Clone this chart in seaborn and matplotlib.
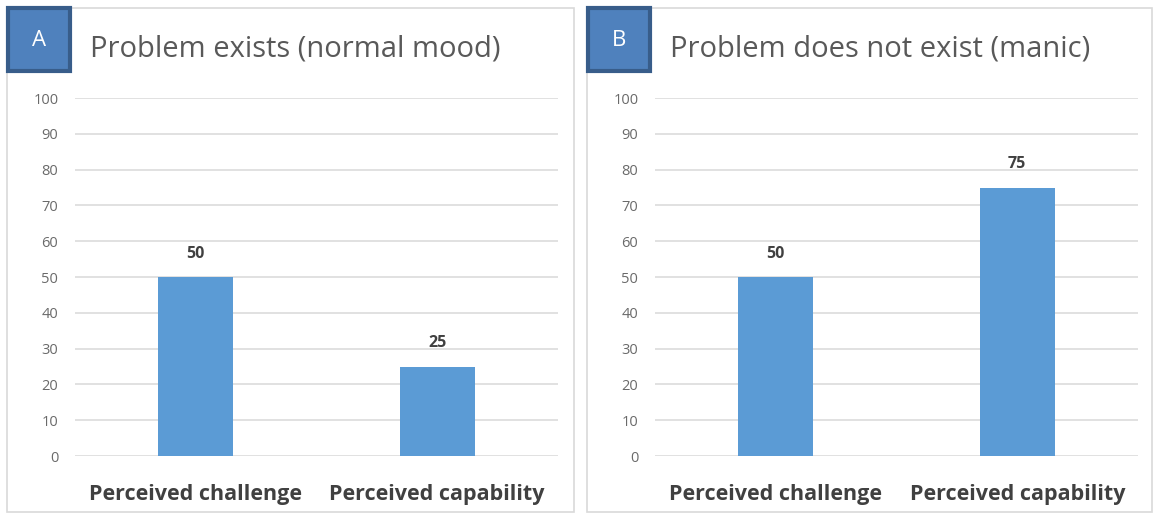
import numpy as np
import pandas as pd
import matplotlib
matplotlib.use('Agg')
import matplotlib.pyplot as plt
import seaborn as sns
from matplotlib.patches import Rectangle

# data
categories = ['Perceived challenge', 'Perceived capability']
values_a = [50, 25]
values_b = [50, 75]
titles = ['Problem exists (normal mood)', 'Problem does not exist (manic)']
panel_letters = ['A', 'B']

sns.set_style('white')
plt.rcParams['font.family'] = ['Open Sans', 'DejaVu Sans']

W, H = 1157, 515
fig = plt.figure(figsize=(W / 100, H / 100), dpi=100)

def fx(px):
    return px / W

def fy(py):
    return 1 - py / H

# panel frames (x0, x1 in px)
frames = [(7, 574), (587, 1152)]
axes_left = [75, 655]
for i, (x0, x1) in enumerate(frames):
    fig.patches.append(Rectangle((fx(x0), fy(512)), fx(x1 - x0), (512 - 8) / H,
                                 transform=fig.transFigure, fill=False,
                                 edgecolor='#d9d9d9', linewidth=1.2))

bar_color = '#5b9bd5'
for i, vals in enumerate([values_a, values_b]):
    df = pd.DataFrame({'cat': categories, 'val': vals})
    ax = fig.add_axes([fx(axes_left[i]), fy(456), 483 / W, (456 - 98) / H])
    sns.barplot(data=df, x='cat', y='val', ax=ax, color=bar_color,
                width=0.31, saturation=1, linewidth=0)
    ax.set_xlim(-0.5, 1.5)
    ax.set_ylim(0, 100)
    ax.set_yticks(range(0, 101, 10))
    ax.yaxis.grid(True, color='#d9d9d9', linewidth=1.1)
    ax.set_axisbelow(True)
    for s in ax.spines.values():
        s.set_visible(False)
    ax.set_xlabel('')
    ax.set_ylabel('')
    ax.tick_params(axis='y', length=0, pad=12, labelsize=10.5, labelcolor='#6a6a6a')
    ax.tick_params(axis='x', length=0, pad=20, labelsize=15.5, labelcolor='#404040')
    for lbl in ax.get_xticklabels():
        lbl.set_fontweight('bold')
    for c in ax.containers:
        ax.bar_label(c, padding=11, fontsize=11.5, fontweight='bold', color='#404040')

    # title and letter box
    fig.text(fx(frames[i][0] + 83), fy(49), titles[i], fontsize=21,
             color='#595959', va='center', ha='left')
    bx0 = frames[i][0] + 1
    fig.patches.append(Rectangle((fx(bx0), fy(71)), fx(62), 63 / H,
                                 transform=fig.transFigure, facecolor='#4f81bd',
                                 edgecolor='#385d8a', linewidth=3))
    fig.text(fx(bx0 + 31), fy(40), panel_letters[i], fontsize=16, color='white',
             ha='center', va='center')

fig.savefig('out.png', dpi=100)
